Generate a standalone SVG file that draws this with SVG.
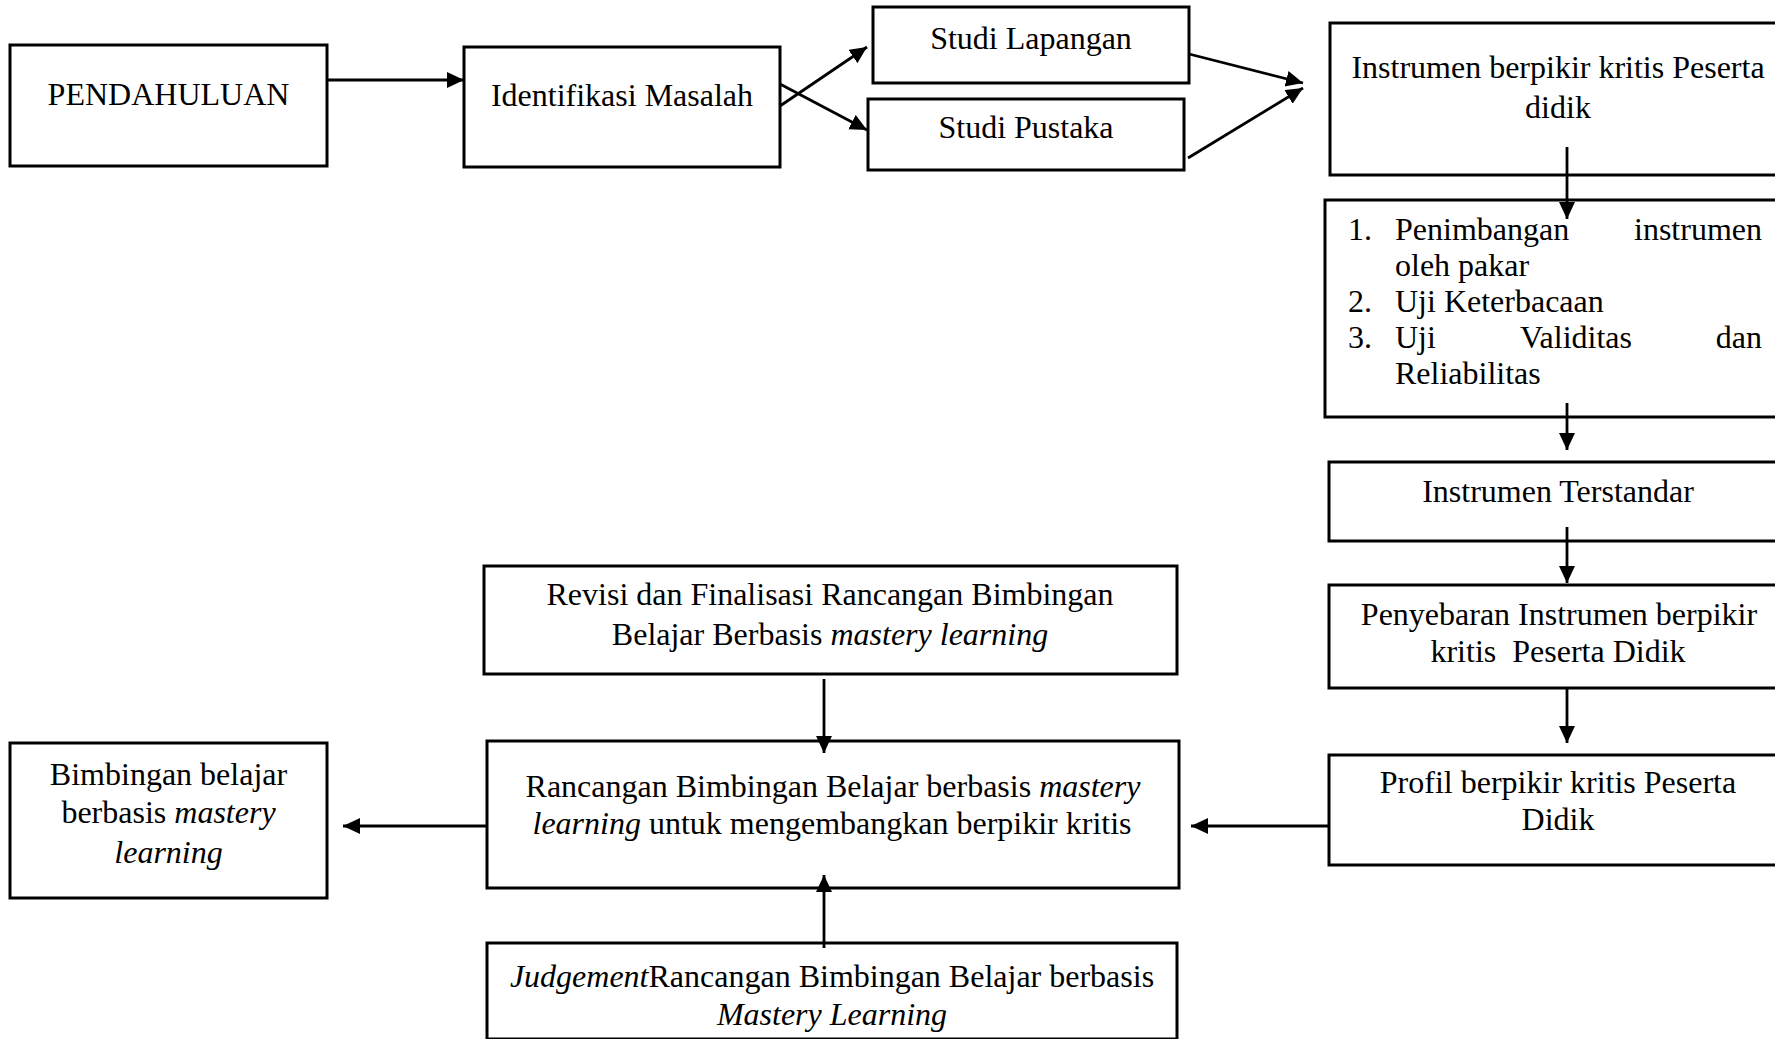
<svg xmlns="http://www.w3.org/2000/svg" width="1775" height="1039" viewBox="0 0 1775 1039">
<style>
.box{fill:#fff;stroke:#000;stroke-width:3}
.t{font-family:"Liberation Serif","Times New Roman",serif;font-size:32px;fill:#000}
.c{text-anchor:middle}
.i{font-style:italic}
.ln{stroke:#000;stroke-width:2.8;fill:none;marker-end:url(#ah)}
</style>
<defs>
<marker id="ah" markerUnits="userSpaceOnUse" markerWidth="18" markerHeight="17" refX="17" refY="8" orient="auto">
<path d="M0,0 L17,8 L0,16 z" fill="#000"/>
</marker>
</defs>
<rect width="1775" height="1039" fill="#fff"/>

<g id="pendahuluan">
<rect class="box" x="10" y="45" width="317" height="121"/>
<text class="t c" x="168.5" y="105">PENDAHULUAN</text>
</g>
<g id="identifikasi">
<rect class="box" x="464" y="47" width="316" height="120"/>
<text class="t c" x="622" y="106">Identifikasi Masalah</text>
</g>
<g id="studi-lapangan">
<rect class="box" x="873" y="7" width="316" height="76"/>
<text class="t c" x="1031" y="49">Studi Lapangan</text>
</g>
<g id="studi-pustaka">
<rect class="box" x="868" y="99" width="316" height="71"/>
<text class="t c" x="1026" y="138">Studi Pustaka</text>
</g>
<g id="instrumen">
<rect class="box" x="1330" y="23" width="460" height="152"/>
<text class="t c" x="1558" y="78">Instrumen berpikir kritis Peserta</text>
<text class="t c" x="1558" y="118">didik</text>
</g>
<g id="uji">
<rect class="box" x="1325" y="200" width="465" height="217"/>
<text class="t" x="1348" y="240">1.</text>
<text class="t" x="1395" y="240">Penimbangan</text>
<text class="t" x="1762" y="240" text-anchor="end">instrumen</text>
<text class="t" x="1395" y="276">oleh pakar</text>
<text class="t" x="1348" y="312">2.</text>
<text class="t" x="1395" y="312">Uji Keterbacaan</text>
<text class="t" x="1348" y="348">3.</text>
<text class="t" x="1395" y="348">Uji</text>
<text class="t" x="1520" y="348">Validitas</text>
<text class="t" x="1762" y="348" text-anchor="end">dan</text>
<text class="t" x="1395" y="384">Reliabilitas</text>
</g>
<g id="terstandar">
<rect class="box" x="1329" y="462" width="461" height="79"/>
<text class="t c" x="1558" y="502">Instrumen Terstandar</text>
</g>
<g id="penyebaran">
<rect class="box" x="1329" y="585" width="461" height="103"/>
<text class="t c" x="1559" y="625">Penyebaran Instrumen berpikir</text>
<text class="t c" x="1558" y="662" xml:space="preserve">kritis  Peserta Didik</text>
</g>
<g id="profil">
<rect class="box" x="1329" y="755" width="461" height="110"/>
<text class="t c" x="1558" y="793">Profil berpikir kritis Peserta</text>
<text class="t c" x="1558" y="830">Didik</text>
</g>
<g id="revisi">
<rect class="box" x="484" y="566" width="693" height="108"/>
<text class="t c" x="830" y="605">Revisi dan Finalisasi Rancangan Bimbingan</text>
<text class="t c" x="830" y="645">Belajar Berbasis <tspan class="i">mastery learning</tspan></text>
</g>
<g id="rancangan">
<rect class="box" x="487" y="741" width="692" height="147"/>
<text class="t c" x="833" y="797">Rancangan Bimbingan Belajar berbasis <tspan class="i">mastery</tspan></text>
<text class="t c" x="832" y="834"><tspan class="i">learning</tspan> untuk mengembangkan berpikir kritis</text>
</g>
<g id="judgement">
<rect class="box" x="487" y="943" width="690" height="96"/>
<text class="t c" x="832" y="987"><tspan class="i">Judgement</tspan>Rancangan Bimbingan Belajar berbasis</text>
<text class="t c i" x="832" y="1025">Mastery Learning</text>
</g>
<g id="bimbingan">
<rect class="box" x="10" y="743" width="317" height="155"/>
<text class="t c" x="168.5" y="785">Bimbingan belajar</text>
<text class="t c" x="168.5" y="823">berbasis <tspan class="i">mastery</tspan></text>
<text class="t c i" x="168.5" y="863">learning</text>
</g>

<g id="connectors">
<line class="ln" x1="327" y1="80" x2="464" y2="80"/>
<line class="ln" x1="780" y1="106" x2="867" y2="47"/>
<line class="ln" x1="780" y1="84" x2="867" y2="130"/>
<line class="ln" x1="1189" y1="54" x2="1303" y2="83"/>
<line class="ln" x1="1188" y1="158" x2="1303" y2="88"/>
<line class="ln" x1="1567" y1="147" x2="1567" y2="219"/>
<line class="ln" x1="1567" y1="403" x2="1567" y2="450"/>
<line class="ln" x1="1567" y1="527" x2="1567" y2="583"/>
<line class="ln" x1="1567" y1="688" x2="1567" y2="743"/>
<line class="ln" x1="1329" y1="826" x2="1191" y2="826"/>
<line class="ln" x1="824" y1="679" x2="824" y2="753"/>
<line class="ln" x1="824" y1="948" x2="824" y2="875"/>
<line class="ln" x1="487" y1="826" x2="343" y2="826"/>
</g>
</svg>
